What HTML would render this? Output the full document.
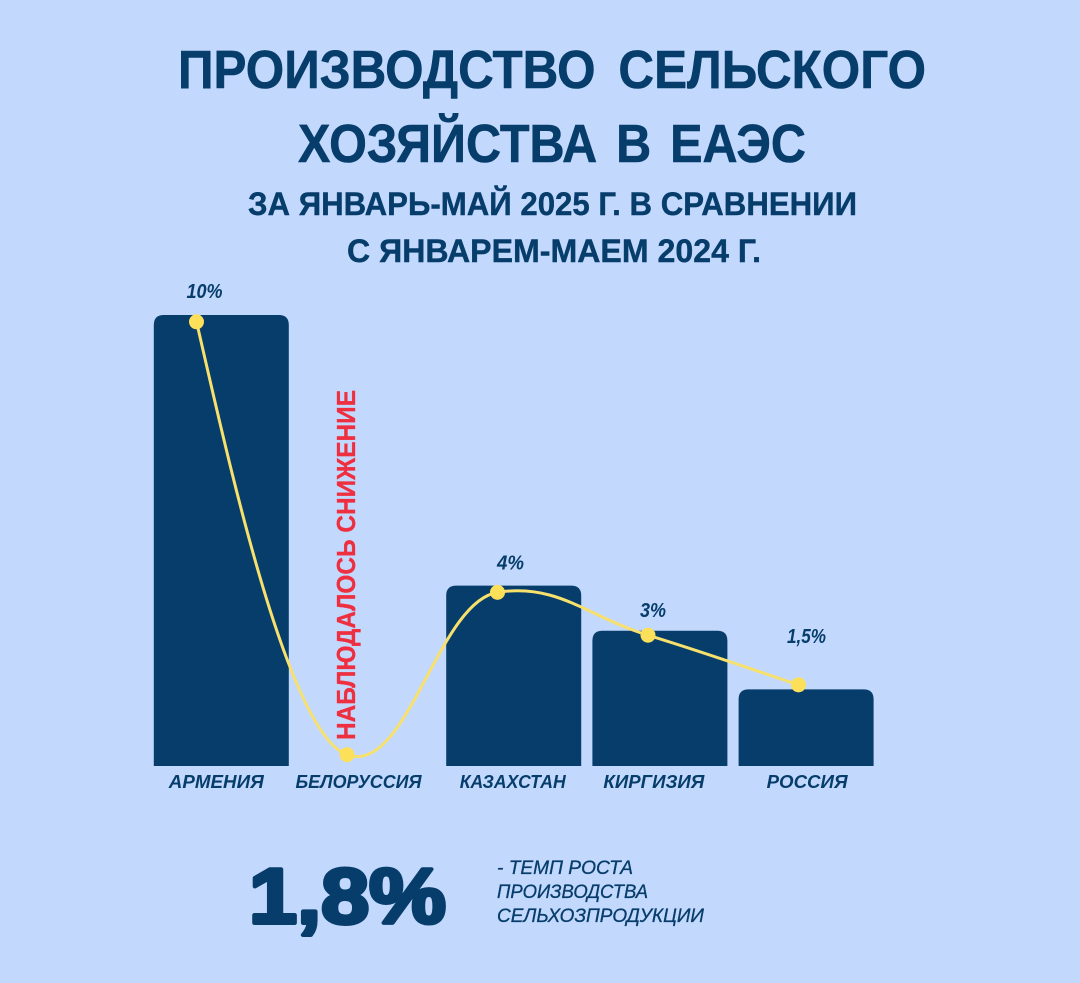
<!DOCTYPE html>
<html lang="ru">
<head>
<meta charset="utf-8">
<title>Производство сельского хозяйства в ЕАЭС</title>
<style>
html,body{margin:0;padding:0;background:#c3d8fd;}
#wrap{width:1080px;height:983px;overflow:hidden;position:relative;background:#c3d8fd;}
svg{display:block;}
text{font-family:"Liberation Sans",sans-serif;fill:#063d6b;}
.t{font-weight:700;stroke:#063d6b;stroke-width:.6px;}
.cat{font-weight:700;font-style:italic;font-size:18px;}
.val{font-weight:700;font-style:italic;font-size:20px;}
.note{font-style:italic;font-size:19px;stroke:#063d6b;stroke-width:.3px;}
</style>
</head>
<body>
<div id="wrap">
<svg id="chart" width="1080" height="983" viewBox="0 0 1080 983" xmlns="http://www.w3.org/2000/svg">
  <text class="t" x="178" y="88" font-size="54" textLength="748" lengthAdjust="spacingAndGlyphs" style="word-spacing:10px">ПРОИЗВОДСТВО СЕЛЬСКОГО</text>
  <text class="t" x="298" y="162" font-size="54" textLength="508" lengthAdjust="spacingAndGlyphs" style="word-spacing:6px">ХОЗЯЙСТВА В ЕАЭС</text>
  <text class="t" x="248" y="215" font-size="32" textLength="609" lengthAdjust="spacingAndGlyphs" style="stroke-width:.4px">ЗА ЯНВАРЬ-МАЙ 2025 Г. В СРАВНЕНИИ</text>
  <text class="t" x="347" y="262" font-size="32" textLength="414" lengthAdjust="spacingAndGlyphs" style="stroke-width:.4px">С ЯНВАРЕМ-МАЕМ 2024 Г.</text>

  <g id="bars"></g>
  <text x="355" y="740" transform="rotate(-90 355 740)" font-size="26" font-weight="700" textLength="350" lengthAdjust="spacingAndGlyphs" style="fill:#ee2f3f;stroke:#ee2f3f;stroke-width:.3px">НАБЛЮДАЛОСЬ СНИЖЕНИЕ</text>
  <g id="line"></g>
  <g id="dots"></g>
  <g id="vals"></g>
  <g id="cats"></g>

  <text x="249" y="923" font-size="78" font-weight="700" textLength="197" lengthAdjust="spacingAndGlyphs" style="stroke:#063d6b;stroke-width:4px;stroke-linejoin:round">1,8%</text>
  <text class="note" x="497" y="874" textLength="136" lengthAdjust="spacingAndGlyphs">- ТЕМП РОСТА</text>
  <text class="note" x="497" y="898" textLength="151" lengthAdjust="spacingAndGlyphs">ПРОИЗВОДСТВА</text>
  <text class="note" x="497" y="922" textLength="207" lengthAdjust="spacingAndGlyphs">СЕЛЬХОЗПРОДУКЦИИ</text>
</svg>
</div>
<script>
var categories = ['АРМЕНИЯ', 'БЕЛОРУССИЯ', 'КАЗАХСТАН', 'КИРГИЗИЯ', 'РОССИЯ'];
var barValues = [10, 0, 4, 3, 1.7];
var lineValues = [9.85, 0.25, 3.85, 2.9, 1.8];
var valueLabels = ['10%', '', '4%', '3%', '1,5%'];

var NS = 'http://www.w3.org/2000/svg';
var BASE = 766, UNIT = 45.1;
function yScale(v) { return BASE - v * UNIT; }
function barX(i) { return 153.8 + i * 146.2; }
function dotX(i) { return 196.5 + i * 150.5; }
var BAR_W = 135, RADIUS = 10;

/* label placement nudges, relative to the band or point each label belongs to */
var catNudge = [-5, -9, -1, -6, 1];
var catWidth = [95, 126, 106, 101, 81];
var valNudgeX = [8, 0, 13, 5, 8];
var valNudgeY = [-24, 0, -23, -18, -42];
var valWidth = [36, 0, 27, 26, 39];

function make(tag, attrs, parent) {
  var el = document.createElementNS(NS, tag);
  for (var k in attrs) { el.setAttribute(k, attrs[k]); }
  parent.appendChild(el);
  return el;
}

var barsG = document.getElementById('bars');
var lineG = document.getElementById('line');
var dotsG = document.getElementById('dots');
var valsG = document.getElementById('vals');
var catsG = document.getElementById('cats');

barValues.forEach(function (v, i) {
  if (v <= 0) { return; }
  var x = barX(i), y = yScale(v), r = RADIUS;
  var d = 'M' + x + ' ' + BASE + 'V' + (y + r) + 'Q' + x + ' ' + y + ' ' + (x + r) + ' ' + y +
          'H' + (x + BAR_W - r) + 'Q' + (x + BAR_W) + ' ' + y + ' ' + (x + BAR_W) + ' ' + (y + r) +
          'V' + BASE + 'Z';
  var bar = make('path', { d: d, fill: '#063d6b' }, barsG);
  
  
});

var pts = lineValues.map(function (v, i) { return [dotX(i), yScale(v)]; });

/* tangent at each point: flattened at turning points, steep at the first point */
function tangent(i) {
  var n = pts.length;
  if (i === 0) { return [(pts[1][0] - pts[0][0]) * 0.2, (pts[1][1] - pts[0][1]) * 0.3]; }
  if (i === n - 1) { return [(pts[n - 1][0] - pts[n - 2][0]) / 3, (pts[n - 1][1] - pts[n - 2][1]) / 3]; }
  var a = pts[i][1] - pts[i - 1][1], b = pts[i + 1][1] - pts[i][1];
  var turning = a * b < 0;
  return [(pts[i + 1][0] - pts[i - 1][0]) * 0.2, (pts[i + 1][1] - pts[i - 1][1]) * (turning ? 0.08 : 0.2)];
}

var d = 'M' + pts[0][0] + ' ' + pts[0][1];
for (var i = 0; i < pts.length - 1; i++) {
  var t1 = tangent(i), t2 = tangent(i + 1);
  d += 'C' + (pts[i][0] + t1[0]) + ' ' + (pts[i][1] + t1[1]) + ' ' +
       (pts[i + 1][0] - t2[0]) + ' ' + (pts[i + 1][1] - t2[1]) + ' ' +
       pts[i + 1][0] + ' ' + pts[i + 1][1];
}
var curve = make('path', { d: d, fill: 'none', stroke: '#f7e06c', 'stroke-width': 3 }, lineG);



pts.forEach(function (p) {
  var dot = make('circle', { cx: p[0], cy: p[1], r: 7.5, fill: '#fde05a' }, dotsG);
  
  
});

valueLabels.forEach(function (s, i) {
  if (!s) { return; }
  var t = make('text', {
    'class': 'val', x: pts[i][0] + valNudgeX[i], y: pts[i][1] + valNudgeY[i],
    'text-anchor': 'middle', textLength: valWidth[i], lengthAdjust: 'spacingAndGlyphs'
  }, valsG);
  t.textContent = s;
  
  
});

categories.forEach(function (s, i) {
  var t = make('text', {
    'class': 'cat', x: barX(i) + BAR_W / 2 + catNudge[i], y: 788,
    'text-anchor': 'middle', textLength: catWidth[i], lengthAdjust: 'spacingAndGlyphs'
  }, catsG);
  t.textContent = s;
  
  
});
</script>
</body>
</html>
